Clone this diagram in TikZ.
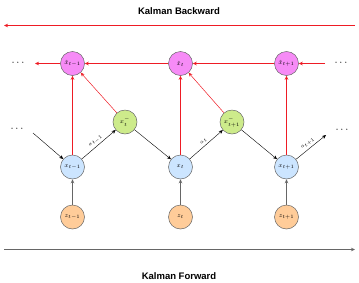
\documentclass[tikz,border=0pt]{standalone}
\usepackage{fontspec}
\newfontfamily\titlefont{Liberation Sans}
\usetikzlibrary{arrows.meta}
\definecolor{pinkf}{HTML}{F68BF6}
\definecolor{greenf}{HTML}{CDEB8B}
\definecolor{bluef}{HTML}{CCE5FF}
\definecolor{orangef}{HTML}{FFCC99}
\definecolor{edgegray}{HTML}{666666}
\definecolor{redl}{HTML}{EE1C25}
\begin{document}
\begin{tikzpicture}[x=1pt,y=-1pt,
  nd/.style={circle,draw=edgegray,line width=0.5pt,minimum size=24pt,inner sep=0pt,font=\fontsize{6}{7}\selectfont},
  pinkn/.style={nd,fill=pinkf},
  greenn/.style={nd,fill=greenf},
  bluen/.style={nd,fill=bluef},
  orangen/.style={nd,fill=orangef},
  blk/.style={-{Stealth[length=4pt,width=3.5pt]},black,line width=0.4pt},
  redar/.style={-{Stealth[length=4pt,width=3.5pt]},redl,line width=0.5pt},
  grayar/.style={-{Stealth[length=4pt,width=3.5pt]},edgegray,line width=0.7pt},
  lbl/.style={font=\fontsize{5.5}{6}\selectfont,inner sep=0.5pt,above=1.5pt,sloped},
  ttl/.style={font=\titlefont\bfseries\fontsize{9.5}{11}\selectfont},
  dots/.style={font=\fontsize{11}{12}\selectfont}]
\useasboundingbox (0,0) rectangle (359,282);
% titles
\node[ttl] (tb) at (179,11) {Kalman Backward};
\node[ttl] (tf) at (179,276) {Kalman Forward};
\coordinate (br) at (355,25.5);
\coordinate (bl) at (4,25.5);
\draw[redar] (br) -- (bl);
\coordinate (fl) at (4,249.5);
\coordinate (fr) at (355,249.5);
\draw[grayar] (fl) -- (fr);
% nodes
\node[pinkn] (h1) at (72.5,63.5) {$\hat{x}_{t-1}$};
\node[pinkn] (h2) at (180.5,63.5) {$\hat{x}_{t}$};
\node[pinkn] (h3) at (286.5,63.5) {$\hat{x}_{t+1}$};
\node[greenn] (g2) at (125,122) {$x_t^-$};
\node[greenn] (g3) at (232,122) {$x_{t+1}^-$};
\node[bluen] (x1) at (72.5,167) {$x_{t-1}$};
\node[bluen] (x2) at (180.5,167) {$x_{t}$};
\node[bluen] (x3) at (286.5,167) {$x_{t+1}$};
\node[orangen] (z1) at (72.5,217) {$z_{t-1}$};
\node[orangen] (z2) at (180.5,217) {$z_{t}$};
\node[orangen] (z3) at (286.5,217) {$z_{t+1}$};
% dots
\node[dots] (dtl) at (18,63) {$\cdots$};
\node[dots] (dtr) at (341,63) {$\cdots$};
\node[dots] (dml) at (17,129) {$\cdots$};
\node[dots] (dmr) at (342,130) {$\cdots$};
\coordinate (rtl) at (35,63.5);
\coordinate (rtr) at (325,63.5);
\coordinate (ml) at (33,133);
\coordinate (mr) at (326,135);
% top red chain
\draw[redar] (h1) -- (rtl);
\draw[redar] (h2) -- (h1);
\draw[redar] (h3) -- (h2);
\draw[redar] (rtr) -- (h3);
% red up
\draw[redar] (x1) -- (h1);
\draw[redar] (x2) -- (h2);
\draw[redar] (x3) -- (h3);
\draw[redar] (g2) -- (h1);
\draw[redar] (g3) -- (h2);
% black chain
\draw[blk] (ml) -- (x1);
\draw[blk] (x1) -- node[lbl] {$a_{t-1}$} (g2);
\draw[blk] (g2) -- (x2);
\draw[blk] (x2) -- node[lbl] {$a_{t}$} (g3);
\draw[blk] (g3) -- (x3);
\draw[blk] (x3) -- node[lbl] {$a_{t+1}$} (mr);
% gray up
\draw[grayar] (z1) -- (x1);
\draw[grayar] (z2) -- (x2);
\draw[grayar] (z3) -- (x3);
\end{tikzpicture}
\end{document}
